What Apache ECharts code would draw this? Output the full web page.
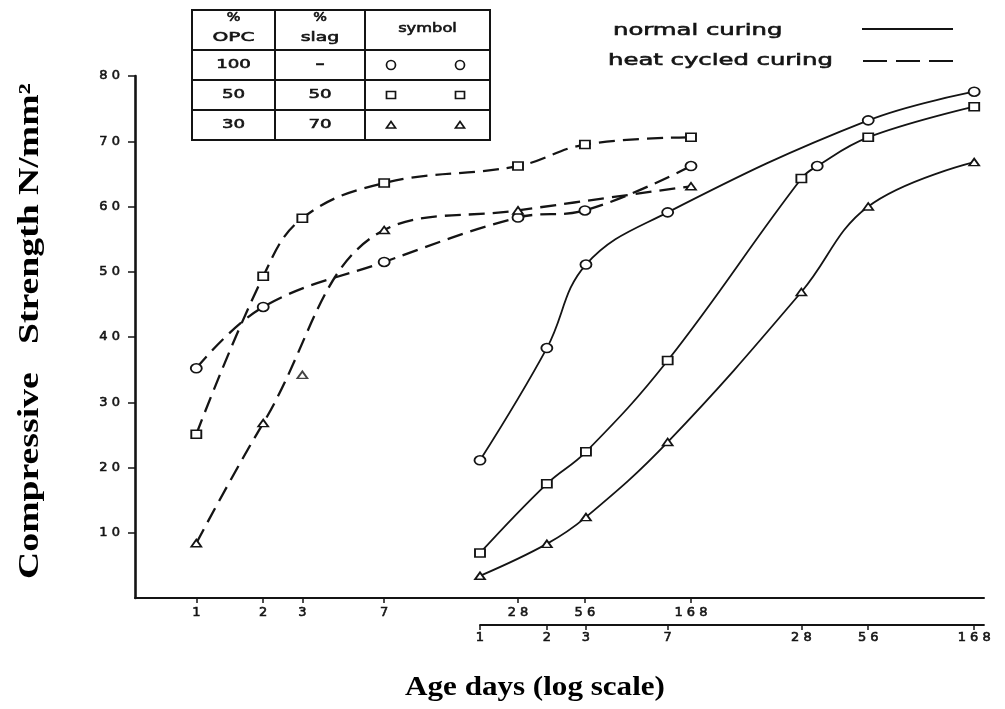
<!DOCTYPE html>
<html>
<head>
<meta charset="utf-8">
<script src="https://cdn.jsdelivr.net/npm/echarts@6/dist/echarts.min.js"></script>
<style>
  html, body { margin: 0; padding: 0; background: #fff; }
  #chart { width: 1005px; height: 709px; }
</style>
</head>
<body>
<div id="chart"></div>
<script>
// Tick values: age in days (both log-scale age axes) and strength in N/mm²
const ageTicks = [1, 2, 3, 7, 28, 56, 168];
const strengthTicks = [10, 20, 30, 40, 50, 60, 70, 80];

// Heat cycled curing, read against the upper age axis
const heatOpcDays = [1, 2, 7, 28, 56, 168];
const heatOpcStrength = [35.2, 44.6, 51.5, 58.3, 59.4, 66.2];
const heatSlag50Days = [1, 2, 3, 7, 28, 56, 168];
const heatSlag50Strength = [25.1, 49.3, 58.2, 63.6, 66.2, 69.5, 70.6];
const heatSlag70Days = [1, 2, 7, 28, 168];
const heatSlag70Strength = [8.4, 26.8, 56.4, 59.4, 63.1];
// reading that sits off the fitted 30/70 curve
const heatSlag70StrayDays = [3];
const heatSlag70StrayStrength = [34.2];

// Normal curing, read against the lower age axis
const normOpcDays = [1, 2, 3, 7, 56, 168];
const normOpcStrength = [21.1, 38.3, 51.1, 59.1, 73.2, 77.6];
const normSlag50Days = [1, 2, 3, 7, 28, 33, 56, 168];
const normSlag50Strength = [6.9, 17.5, 22.4, 36.4, 64.3, 66.2, 70.6, 75.3];
const normSlag70Days = [1, 2, 3, 7, 28, 56, 168];
const normSlag70Strength = [3.4, 8.3, 12.4, 23.9, 46.9, 60.0, 66.8];

// Mix table rows
const opcPercent = ['100', '50', '30'];
const slagPercent = ['–', '50', '70'];

const INK = '#141414';
const SANS = 'DejaVu Sans';
const SERIF = 'Liberation Serif';

const spaced = v => String(v).split('').join(' ');
const pairs = (xs, ys) => xs.map((x, i) => [x, ys[i]]);

const SYMBOLS = {
  circle: { symbol: 'circle', size: [11, 9] },
  rect: { symbol: 'rect', size: [10, 8] },
  triangle: { symbol: 'triangle', size: [10, 7] }
};

function curve(name, days, vals, shape, dashed, axis) {
  const s = SYMBOLS[shape];
  return {
    name, type: 'line', xAxisIndex: axis, yAxisIndex: axis,
    data: pairs(days, vals),
    smooth: 0.4,
    symbol: s.symbol, symbolSize: s.size, showSymbol: true,
    itemStyle: { color: '#fff', borderColor: INK, borderWidth: 1.7 },
    lineStyle: { color: INK, width: dashed ? 2.3 : 1.8, type: dashed ? [16, 8] : 'solid' },
    emphasis: { disabled: true }, clip: false, z: 3
  };
}

const series = [
  curve('heat OPC', heatOpcDays, heatOpcStrength, 'circle', true, 0),
  curve('heat 50/50', heatSlag50Days, heatSlag50Strength, 'rect', true, 0),
  curve('heat 30/70', heatSlag70Days, heatSlag70Strength, 'triangle', true, 0),
  {
    name: 'heat 30/70 stray', type: 'scatter', xAxisIndex: 0, yAxisIndex: 0,
    data: pairs(heatSlag70StrayDays, heatSlag70StrayStrength),
    symbol: 'triangle', symbolSize: [10, 7],
    itemStyle: { color: '#fff', borderColor: INK, borderWidth: 1.7 },
    emphasis: { disabled: true }, z: 4
  },
  curve('normal OPC', normOpcDays, normOpcStrength, 'circle', false, 1),
  curve('normal 50/50', normSlag50Days, normSlag50Strength, 'rect', false, 1),
  curve('normal 30/70', normSlag70Days, normSlag70Strength, 'triangle', false, 1)
];
// the 33-day reading on the 50/50 normal curve is marked with a circle
series[5].data = series[5].data.map(p => p[0] === 33
  ? { value: p, symbol: 'circle', symbolSize: [11, 9] } : p);

function dayAxis(grid, min, max, offset, lineWidth, margin) {
  return {
    type: 'log', logBase: 10, gridIndex: grid, min, max, offset,
    axisLine: { show: true, onZero: false, lineStyle: { color: INK, width: lineWidth } },
    axisTick: { show: true, customValues: ageTicks, length: 5, lineStyle: { color: INK, width: 1.5 } },
    axisLabel: {
      customValues: ageTicks, formatter: spaced, margin,
      color: INK, fontSize: 13, fontFamily: SANS,
      textBorderColor: INK, textBorderWidth: 0.6
    },
    splitLine: { show: false }, minorTick: { show: false }, minorSplitLine: { show: false }
  };
}

function txt(text, x, y, size, sx, extra) {
  return {
    type: 'text', x, y, scaleX: sx, silent: true,
    style: Object.assign({
      text, fill: INK, stroke: INK, lineWidth: 0.6, fontSize: size, fontFamily: SANS,
      textAlign: 'center', textVerticalAlign: 'middle',
      align: 'center', verticalAlign: 'middle'
    }, extra || {})
  };
}

// Mix table
const tbl = { x0: 192, x1: 275, x2: 365, x3: 490, y0: 10, y1: 50, rowH: 30 };
const colC = [(tbl.x0 + tbl.x1) / 2, (tbl.x1 + tbl.x2) / 2];
const symX = [391, 460];
const tableGraphics = [
  { type: 'rect', shape: { x: tbl.x0, y: tbl.y0, width: tbl.x3 - tbl.x0, height: tbl.y1 + 3 * tbl.rowH - tbl.y0 },
    style: { fill: 'none', stroke: INK, lineWidth: 2 }, silent: true },
  { type: 'line', shape: { x1: tbl.x1, y1: tbl.y0, x2: tbl.x1, y2: tbl.y1 + 3 * tbl.rowH }, style: { stroke: INK, lineWidth: 2 } },
  { type: 'line', shape: { x1: tbl.x2, y1: tbl.y0, x2: tbl.x2, y2: tbl.y1 + 3 * tbl.rowH }, style: { stroke: INK, lineWidth: 2 } },
  txt('%', colC[0], 18, 12, 1.2),
  txt('OPC', colC[0], 38, 13, 1.55),
  txt('%', colC[1], 18, 12, 1.2),
  txt('slag', colC[1], 38, 13, 1.45),
  txt('symbol', (tbl.x2 + tbl.x3) / 2, 29, 13, 1.25)
];
const rowShapes = ['circle', 'rect', 'triangle'];
opcPercent.forEach((v, i) => {
  const top = tbl.y1 + i * tbl.rowH;
  const cy = top + tbl.rowH / 2;
  tableGraphics.push({ type: 'line', shape: { x1: tbl.x0, y1: top, x2: tbl.x3, y2: top }, style: { stroke: INK, lineWidth: 2 } });
  tableGraphics.push(txt(v, colC[0], cy, 13, 1.4));
  tableGraphics.push(txt(slagPercent[i], colC[1], cy, 13, 1.4,
    slagPercent[i] === '–' ? { fontWeight: 'bold' } : null));
  symX.forEach(sx => {
    const st = { fill: '#fff', stroke: INK, lineWidth: 1.7 };
    if (rowShapes[i] === 'circle') tableGraphics.push({ type: 'circle', shape: { cx: sx, cy, r: 4.5 }, style: st });
    else if (rowShapes[i] === 'rect') tableGraphics.push({ type: 'rect', shape: { x: sx - 4.5, y: cy - 3.5, width: 9, height: 7 }, style: st });
    else tableGraphics.push({ type: 'polygon', shape: { points: [[sx - 4.5, cy + 3], [sx + 4.5, cy + 3], [sx, cy - 3.5]] }, style: st });
  });
});

// Curing-type key
const leftText = { textAlign: 'left', align: 'left' };
const keyGraphics = [
  txt('normal curing', 613, 31, 16, 1.52, leftText),
  { type: 'line', shape: { x1: 862, y1: 29, x2: 953, y2: 29 }, style: { stroke: INK, lineWidth: 1.9 } },
  txt('heat cycled curing', 608, 61, 16, 1.52, leftText),
  { type: 'line', shape: { x1: 863, y1: 61, x2: 953, y2: 61 }, style: { stroke: INK, lineWidth: 2.1, lineDash: [24, 9] } }
];

// Axis titles
const titleStyle = {
  fill: '#000', fontWeight: 'bold', fontFamily: SERIF,
  textAlign: 'center', align: 'center', textVerticalAlign: 'middle', verticalAlign: 'middle'
};
const titleGraphics = [
  { type: 'text', x: 31, y: 331, rotation: Math.PI / 2, scaleX: 1.3, silent: true,
    style: Object.assign({ text: 'Compressive   Strength N/mm²', fontSize: 29 }, titleStyle) },
  { type: 'text', x: 535, y: 688, scaleX: 1.11, silent: true,
    style: Object.assign({ text: 'Age days (log scale)', fontSize: 28 }, titleStyle) }
];

const option = {
  animation: false,
  backgroundColor: '#fff',
  textStyle: { fontFamily: SANS },
  grid: [
    { left: 135, right: 21, top: 76, bottom: 111 },
    { left: 480, right: 21, top: 76, bottom: 111 }
  ],
  xAxis: [
    dayAxis(0, 0.53, 3494, 0, 2, 8),
    dayAxis(1, 1, 186, 27, 1.8, 6)
  ],
  yAxis: [
    {
      type: 'value', gridIndex: 0, min: 0, max: 80,
      axisLine: { show: true, onZero: false, lineStyle: { color: INK, width: 2.6 } },
      axisTick: { show: true, customValues: strengthTicks, length: 7, lineStyle: { color: INK, width: 1.5 } },
      axisLabel: {
        customValues: strengthTicks, formatter: spaced, margin: 15,
        color: INK, fontSize: 13, fontFamily: SANS, textBorderColor: INK, textBorderWidth: 0.6
      },
      splitLine: { show: false }
    },
    { type: 'value', gridIndex: 1, min: 0, max: 80, show: false }
  ],
  series,
  graphic: { elements: [...tableGraphics, ...keyGraphics, ...titleGraphics] }
};

const chart = echarts.init(document.getElementById('chart'), null, { renderer: 'canvas' });
chart.setOption(option);
</script>
</body>
</html>
